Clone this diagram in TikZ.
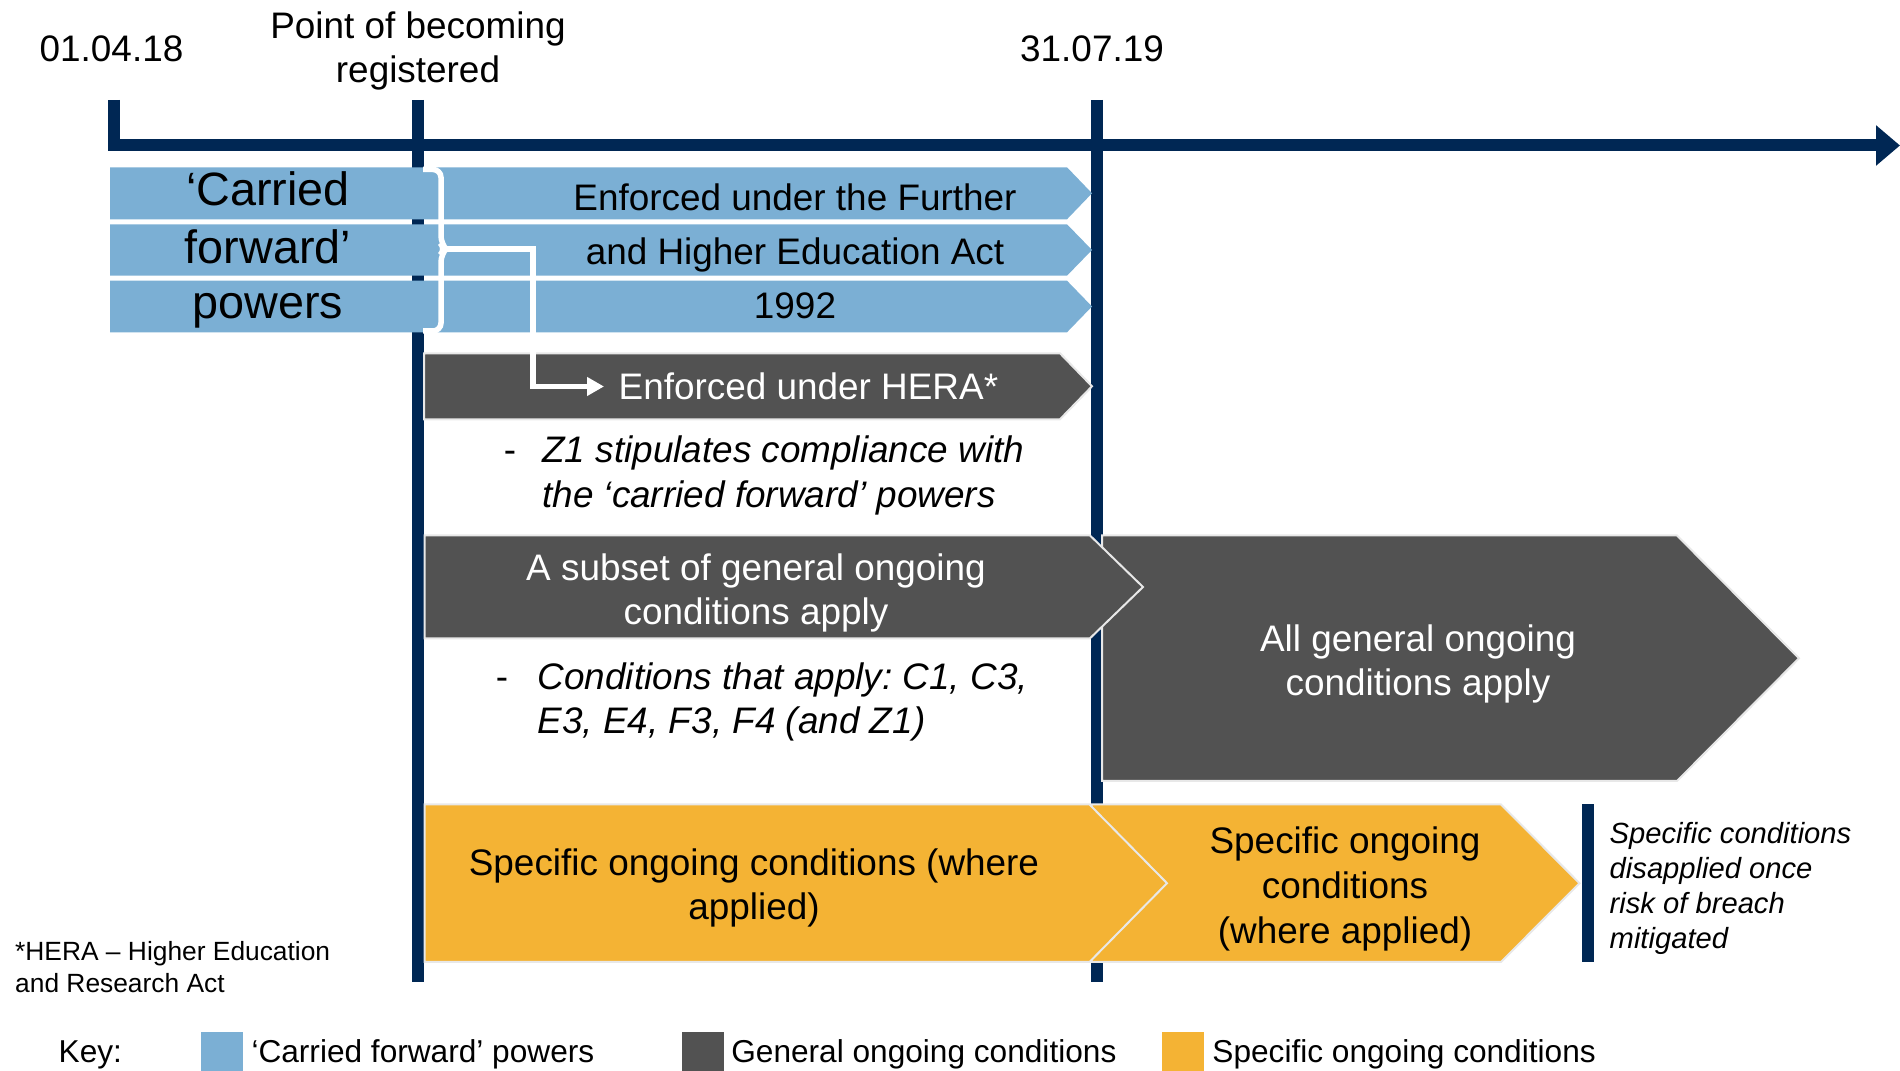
\documentclass[tikz,border=0pt]{standalone}
\usepackage{fontspec}
\setmainfont{Liberation Sans}
\usetikzlibrary{arrows.meta, positioning}
\frenchspacing

\definecolor{navy}{RGB}{0,39,84}
\definecolor{cfblue}{RGB}{123,175,212}
\definecolor{gengrey}{RGB}{82,82,82}
\definecolor{specyellow}{RGB}{244,179,52}
\definecolor{edgegrey}{RGB}{232,232,232}

\begin{document}
\begin{tikzpicture}[x=0.1mm, y=-0.1mm,
  tickline/.style={draw=navy, line width=1.2mm},
  bluebar/.style={fill=cfblue, draw=none},
  greybar/.style={fill=gengrey, draw=edgegrey, line width=0.2mm},
  yellowbar/.style={fill=specyellow, draw=edgegrey, line width=0.2mm},
  bracketline/.style={draw=white, line width=0.55mm},
  bartext/.style={font=\fontsize{10.5}{12.7}\selectfont, inner sep=0pt},
  bigtext/.style={font=\fontsize{13.3}{16}\selectfont, inner sep=0pt},
  notetext/.style={font=\fontsize{10.5}{12.7}\selectfont\itshape, inner sep=0pt},
  sidetext/.style={font=\fontsize{8.3}{9.96}\selectfont\itshape, inner sep=0pt},
  foottext/.style={font=\fontsize{7.5}{9.3}\selectfont, inner sep=0pt},
  keytext/.style={font=\fontsize{9}{10.8}\selectfont, inner sep=0pt},
  swatch/.style={minimum width=4.2mm, minimum height=4.1mm, inner sep=0pt}]
\useasboundingbox (0,0) rectangle (1900,1071);

% timeline
\node[bartext] at (111.5, 48.5) (start) {01.04.18};
\node[bartext, align=center] at (418, 51) (reg) {Point of becoming\\registered};
\node[bartext] at (1092, 48.5) (deadline) {31.07.19};
\coordinate (t1) at (114, 100);
\coordinate (t2) at (418, 100);
\coordinate (t3) at (1097, 100);
\coordinate (tend) at (1900, 145.5);
\draw[tickline, -{Triangle[length=2.4mm, width=3.9mm]}] (t1) |- (tend);
\draw[tickline] (t2) -- (418, 982);
\draw[tickline] (t3) -- (1097, 982);

% carried forward powers
\draw[bluebar] (110, 167.3) -- (1067, 167.3) -- (1092, 193.3) -- (1067, 219.3) -- (110, 219.3) -- cycle;
\draw[bluebar] (110, 224.3) -- (1067, 224.3) -- (1092, 250) -- (1067, 275.7) -- (110, 275.7) -- cycle;
\draw[bluebar] (110, 280.7) -- (1067, 280.7) -- (1092, 306.5) -- (1067, 332.3) -- (110, 332.3) -- cycle;
\node[bigtext, anchor=base] at (268, 206) (cf1) {‘Carried};
\node[bigtext, anchor=base] at (268, 264) (cf2) {forward’};
\node[bigtext, anchor=base] at (268, 319) (cf3) {powers};
\node[bartext, anchor=base] at (795, 210.5) (fhe1) {Enforced under the Further};
\node[bartext, anchor=base] at (795, 265) (fhe2) {and Higher Education Act};
\node[bartext, anchor=base] at (795, 318.5) (fhe3) {1992};

% general ongoing conditions
\draw[greybar] (424, 353.3) -- (1060, 353.3) -- (1092, 386.3) -- (1060, 419.3) -- (424, 419.3) -- cycle;
\node[bartext, text=white, anchor=west, inner xsep=1.4mm] at (604, 386.5) (hera) {Enforced under HERA*};
\coordinate (brace) at (446, 249);
\draw[bracketline, rounded corners=0.8mm] (423, 169.5) -- (441, 169.5) -- (441, 244) -- (brace) -- (441, 254) -- (441, 331) -- (423, 331);
\draw[bracketline, -{Triangle[length=1.7mm, width=1.8mm]}] (brace) -- (533, 249) |- (hera.west);
\node[bartext] at (510, 457) (z1dash) {-};
\node[notetext, anchor=west, align=left] at (541.6, 475.5) (z1note) {Z1 stipulates compliance with\\the ‘carried forward’ powers};

\draw[greybar] (1102, 535.5) -- (1677, 535.5) -- (1799, 658.3) -- (1677, 781) -- (1102, 781) -- cycle;
\draw[greybar] (424.5, 535.5) -- (1090, 535.5) -- (1143, 587) -- (1090, 638.3) -- (424.5, 638.3) -- cycle;
\node[bartext, text=white, align=center] at (756, 593) (subset) {A subset of general ongoing\\conditions apply};
\node[bartext, text=white, align=center] at (1418, 664) (allgen) {All general ongoing\\conditions apply};
\node[bartext] at (502, 684) (cdash) {-};
\node[notetext, anchor=west, align=left] at (537, 702) (cnote) {Conditions that apply: C1, C3,\\E3, E4, F3, F4 (and Z1)};

% specific ongoing conditions
\draw[yellowbar] (1091.7, 804.5) -- (1501, 804.5) -- (1579.5, 883.2) -- (1501, 962) -- (1091.7, 962) -- cycle;
\draw[yellowbar] (424.5, 804.5) -- (1089.5, 804.5) -- (1167, 883.2) -- (1089.5, 962) -- (424.5, 962) -- cycle;
\node[bartext, align=center] at (754, 888) (spec1) {Specific ongoing conditions (where\\applied)};
\node[bartext, align=center] at (1345, 889) (spec2) {Specific ongoing\\conditions\\(where applied)};
\draw[tickline] (1588, 804.5) -- (1588, 962);
\node[sidetext, anchor=west, align=left] at (1609, 888) (disapp) {Specific conditions\\disapplied once\\risk of breach\\mitigated};

\node[foottext, anchor=west, align=left] at (14.5, 967) (heranote) {*HERA – Higher Education\\and Research Act};

% key
\node[keytext, anchor=base west] at (58, 1063) (key) {Key:};
\node[swatch, fill=cfblue] at (222, 1052.5) (keycf) {};
\node[keytext, anchor=base west] at (250.8, 1063) (keycftext) {‘Carried forward’ powers};
\node[swatch, fill=gengrey] at (703, 1052.5) (keygen) {};
\node[keytext, anchor=base west] at (730.6, 1063) (keygentext) {General ongoing conditions};
\node[swatch, fill=specyellow] at (1183, 1052.5) (keyspec) {};
\node[keytext, anchor=base west] at (1211.7, 1063) (keyspectext) {Specific ongoing conditions};
\end{tikzpicture}
\end{document}
